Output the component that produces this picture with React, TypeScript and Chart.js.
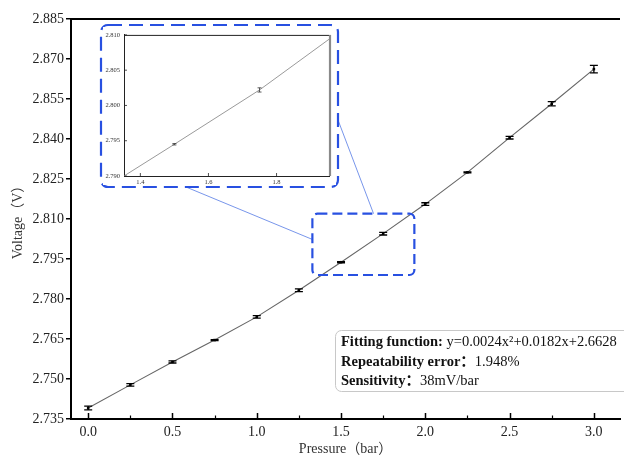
import React, { useEffect, useRef } from "react";
import { Chart, registerables } from "chart.js";

Chart.register(...registerables);

// ---------- data ----------
const pressure = [0, 0.25, 0.5, 0.75, 1.0, 1.25, 1.5, 1.75, 2.0, 2.25, 2.5, 2.75, 3.0];
const voltage = [2.7391, 2.7478, 2.7564, 2.7646, 2.7733, 2.7833, 2.7938, 2.8045, 2.8156, 2.8275, 2.8405, 2.8532, 2.8662];
const voltageError = [0.0007, 0.0005, 0.0004, 0.0002, 0.0005, 0.0005, 0.0002, 0.0005, 0.0005, 0.0002, 0.0005, 0.0008, 0.0014];

const xMajorTicks = [0, 0.5, 1.0, 1.5, 2.0, 2.5, 3.0];
const xMinorTicks = [0.25, 0.75, 1.25, 1.75, 2.25, 2.75];
const yTicks = [2.735, 2.75, 2.765, 2.78, 2.795, 2.81, 2.825, 2.84, 2.855, 2.87, 2.885];

// zoomed region (data units) marked on the main chart
const zoomPressure = [1.33, 1.935];
const zoomVoltage = [2.789, 2.812];

// inset chart
const insetPressure = [1.25, 1.5, 1.75, 2.0];
const insetVoltage = [2.7869, 2.7945, 2.8022, 2.811];
const insetError = [0, 0.0001, 0.0003, 0];
const insetXTicks = [1.4, 1.6, 1.8];
const insetYTicks = [2.79, 2.795, 2.8, 2.805, 2.81];

// annotation text
const fitLabel = "Fitting function:";
const fitText = " y=0.0024x\u00B2+0.0182x+2.6628";
const repLabel = "Repeatability error\uFF1A";
const repText = "1.948%";
const sensLabel = "Sensitivity\uFF1A";
const sensText = "38mV/bar";

const SERIF = "'Liberation Serif', 'Times New Roman', 'Noto Sans CJK SC', serif";
const BLUE = "rgb(40, 80, 225)";

function errorBarPlugin(id: string, xs: number[], ys: number[], errs: number[], cap: number, lw: number, color: string, only?: number[]) {
  return {
    id,
    afterDatasetsDraw(chart: any) {
      const { ctx, scales, chartArea } = chart;
      const xs_ = scales.x;
      const ys_ = scales.y;
      ctx.save();
      ctx.beginPath();
      ctx.rect(chartArea.left, chartArea.top, chartArea.right - chartArea.left, chartArea.bottom - chartArea.top);
      ctx.clip();
      ctx.strokeStyle = color;
      ctx.lineWidth = lw;
      xs.forEach((xv, i) => {
        if (only && !only.includes(i)) return;
        const px = xs_.getPixelForValue(xv);
        const pt = ys_.getPixelForValue(ys[i] + errs[i]);
        const pb = ys_.getPixelForValue(ys[i] - errs[i]);
        ctx.beginPath();
        ctx.moveTo(px, pt);
        ctx.lineTo(px, pb);
        ctx.moveTo(px - cap / 2, pt);
        ctx.lineTo(px + cap / 2, pt);
        ctx.moveTo(px - cap / 2, pb);
        ctx.lineTo(px + cap / 2, pb);
        ctx.stroke();
      });
      ctx.restore();
    },
  };
}

function rrect(ctx: CanvasRenderingContext2D, x: number, y: number, w: number, h: number, r: number) {
  ctx.beginPath();
  ctx.moveTo(x + r, y);
  ctx.lineTo(x + w - r, y);
  ctx.arcTo(x + w, y, x + w, y + r, r);
  ctx.lineTo(x + w, y + h - r);
  ctx.arcTo(x + w, y + h, x + w - r, y + h, r);
  ctx.lineTo(x + r, y + h);
  ctx.arcTo(x, y + h, x, y + h - r, r);
  ctx.lineTo(x, y + r);
  ctx.arcTo(x, y, x + r, y, r);
  ctx.closePath();
}

const mainDecor = {
  id: "mainDecor",
  beforeDraw(chart: any) {
    const { ctx, width, height } = chart;
    ctx.save();
    ctx.fillStyle = "#fff";
    ctx.fillRect(0, 0, width, height);
    ctx.restore();
  },
  afterDraw(chart: any) {
    const { ctx, chartArea, scales } = chart;
    const xs = scales.x;
    const ys = scales.y;
    ctx.save();
    // top frame line
    ctx.strokeStyle = "#000";
    ctx.lineWidth = 2;
    ctx.beginPath();
    ctx.moveTo(chartArea.left - 1, chartArea.top);
    ctx.lineTo(chartArea.right, chartArea.top);
    ctx.stroke();
    // inward x ticks
    ctx.lineWidth = 1.5;
    const yb = chartArea.bottom;
    xMajorTicks.forEach((v) => {
      const px = Math.round(xs.getPixelForValue(v)) + 0.5;
      ctx.beginPath();
      ctx.moveTo(px, yb);
      ctx.lineTo(px, yb - 6);
      ctx.stroke();
    });
    ctx.lineWidth = 1.2;
    xMinorTicks.forEach((v) => {
      const px = Math.round(xs.getPixelForValue(v)) + 0.5;
      ctx.beginPath();
      ctx.moveTo(px, yb);
      ctx.lineTo(px, yb - 3.5);
      ctx.stroke();
    });

    // zoom box
    const zx1 = xs.getPixelForValue(zoomPressure[0]);
    const zx2 = xs.getPixelForValue(zoomPressure[1]);
    const zy1 = ys.getPixelForValue(zoomVoltage[1]);
    const zy2 = ys.getPixelForValue(zoomVoltage[0]);
    // inset frame (layout position)
    const ix1 = 101, iy1 = 25, ix2 = 338, iy2 = 187;

    // connector lines
    ctx.strokeStyle = "rgb(120, 150, 235)";
    ctx.lineWidth = 1;
    ctx.setLineDash([]);
    ctx.beginPath();
    ctx.moveTo(186, iy2);
    ctx.lineTo(zx1, zy1 + (zy2 - zy1) * 0.42);
    ctx.moveTo(ix2, 120);
    ctx.lineTo(zx1 + (zx2 - zx1) * 0.6, zy1);
    ctx.stroke();

    ctx.strokeStyle = BLUE;
    ctx.lineWidth = 2.2;
    ctx.setLineDash([10, 5]);
    rrect(ctx, zx1, zy1, zx2 - zx1, zy2 - zy1, 5);
    ctx.stroke();
    ctx.setLineDash([14, 7]);
    rrect(ctx, ix1, iy1, ix2 - ix1, iy2 - iy1, 7);
    ctx.stroke();
    ctx.setLineDash([]);

    // annotation box
    ctx.fillStyle = "#fff";
    ctx.strokeStyle = "#c8c8c8";
    ctx.lineWidth = 1;
    rrect(ctx, 335.5, 330.5, 300, 61, 6);
    ctx.fill();
    ctx.stroke();
    ctx.textBaseline = "middle";
    ctx.fillStyle = "#111";
    const lines: [string, string, number][] = [
      [fitLabel, fitText, 342.5],
      [repLabel, repText, 362],
      [sensLabel, sensText, 381],
    ];
    lines.forEach(([b, n, y]) => {
      ctx.font = `bold 14.5px ${SERIF}`;
      ctx.fillText(b, 341, y);
      const w = ctx.measureText(b).width;
      ctx.font = `14.5px ${SERIF}`;
      ctx.fillText(n, 341 + w, y);
    });
    ctx.restore();
  },
};

const insetDecor = {
  id: "insetDecor",
  beforeDraw(chart: any) {
    const { ctx, width, height } = chart;
    ctx.save();
    ctx.fillStyle = "#fff";
    ctx.fillRect(0, 0, width, height);
    ctx.restore();
  },
  afterDraw(chart: any) {
    const { ctx, chartArea, scales } = chart;
    const xs = scales.x;
    const ys = scales.y;
    ctx.save();
    ctx.strokeStyle = "#222";
    ctx.lineWidth = 1;
    ctx.beginPath();
    ctx.moveTo(chartArea.left, chartArea.top + 0.5);
    ctx.lineTo(chartArea.right, chartArea.top + 0.5);
    ctx.stroke();
    ctx.strokeStyle = "#8a8a8a";
    ctx.lineWidth = 2.2;
    ctx.beginPath();
    ctx.moveTo(chartArea.right + 1, chartArea.top);
    ctx.lineTo(chartArea.right + 1, chartArea.bottom);
    ctx.stroke();
    ctx.strokeStyle = "#222";
    ctx.lineWidth = 0.8;
    insetXTicks.forEach((v) => {
      const px = xs.getPixelForValue(v);
      ctx.beginPath();
      ctx.moveTo(px, chartArea.bottom);
      ctx.lineTo(px, chartArea.bottom - 3);
      ctx.stroke();
    });
    insetYTicks.forEach((v) => {
      const py = ys.getPixelForValue(v);
      ctx.beginPath();
      ctx.moveTo(chartArea.left, py);
      ctx.lineTo(chartArea.left + 3, py);
      ctx.stroke();
    });
    ctx.restore();
  },
};

export default function App() {
  const mainRef = useRef<HTMLCanvasElement | null>(null);
  const insetRef = useRef<HTMLCanvasElement | null>(null);

  useEffect(() => {
    document.body.style.margin = "0";
    if (!mainRef.current || !insetRef.current) return;

    const main = new Chart(mainRef.current, {
      type: "line",
      data: {
        datasets: [
          {
            data: pressure.map((p, i) => ({ x: p, y: voltage[i] })),
            borderColor: "#666",
            borderWidth: 1.1,
            pointStyle: "rect",
            pointRadius: 1.8,
            pointBackgroundColor: "#000",
            pointBorderColor: "#000",
            pointBorderWidth: 0,
            tension: 0,
          },
        ],
      },
      options: {
        animation: false,
        responsive: false,
        devicePixelRatio: 1,
        layout: { padding: { top: 19, right: 0, left: 0, bottom: 0 } },
        plugins: { legend: { display: false }, tooltip: { enabled: false } },
        scales: {
          x: {
            type: "linear",
            min: -0.102,
            max: 3.155,
            afterBuildTicks: (s: any) => {
              s.ticks = xMajorTicks.map((v) => ({ value: v }));
            },
            afterFit: (s: any) => {
              s.height = 37;
            },
            grid: { display: false, drawTicks: false },
            border: { display: true, color: "#000", width: 2 },
            ticks: {
              color: "#222",
              font: { family: SERIF, size: 14 },
              padding: 5,
              maxRotation: 0,
              autoSkip: false,
              callback: (v: any) => Number(v).toFixed(1),
            },
            title: {
              display: true,
              text: "Pressure\uFF08bar\uFF09",
              color: "#333",
              font: { family: SERIF, size: 14, lineHeight: 1 },
              padding: 0,
            },
          },
          y: {
            type: "linear",
            min: 2.735,
            max: 2.885,
            afterBuildTicks: (s: any) => {
              s.ticks = yTicks.map((v) => ({ value: v }));
            },
            afterFit: (s: any) => {
              s.width = 71;
            },
            grid: { display: true, drawOnChartArea: false, drawTicks: true, tickLength: 5, color: "#000", lineWidth: 1.5 },
            border: { display: true, color: "#000", width: 2 },
            ticks: {
              color: "#222",
              font: { family: SERIF, size: 14 },
              padding: 2,
              autoSkip: false,
              callback: (v: any) => Number(v).toFixed(3),
            },
            title: {
              display: true,
              text: "Voltage\uFF08V\uFF09",
              color: "#333",
              font: { family: SERIF, size: 14, lineHeight: 1.2 },
              padding: { top: 10, bottom: 0 },
            },
          },
        },
      },
      plugins: [mainDecor, errorBarPlugin("mainErr", pressure, voltage, voltageError, 8, 1.3, "#000")],
    });

    const inset = new Chart(insetRef.current, {
      type: "line",
      data: {
        datasets: [
          {
            data: insetPressure.map((p, i) => ({ x: p, y: insetVoltage[i] })),
            borderColor: "#9a9a9a",
            borderWidth: 1,
            pointRadius: 0,
            tension: 0,
          },
        ],
      },
      options: {
        animation: false,
        responsive: false,
        devicePixelRatio: 1,
        layout: { padding: { top: 4, right: 7, left: 0, bottom: 0 } },
        plugins: { legend: { display: false }, tooltip: { enabled: false } },
        scales: {
          x: {
            type: "linear",
            min: 1.352,
            max: 1.954,
            afterBuildTicks: (s: any) => {
              s.ticks = insetXTicks.map((v) => ({ value: v }));
            },
            afterFit: (s: any) => {
              s.height = 9;
            },
            grid: { display: false, drawTicks: false },
            border: { display: true, color: "#222", width: 1 },
            ticks: {
              color: "#333",
              font: { family: SERIF, size: 6.5 },
              padding: 2,
              maxRotation: 0,
              autoSkip: false,
              callback: (v: any) => Number(v).toFixed(1),
            },
          },
          y: {
            type: "linear",
            min: 2.79,
            max: 2.81,
            afterBuildTicks: (s: any) => {
              s.ticks = insetYTicks.map((v) => ({ value: v }));
            },
            afterFit: (s: any) => {
              s.width = 21;
            },
            grid: { display: false, drawTicks: false },
            border: { display: true, color: "#222", width: 1 },
            ticks: {
              color: "#333",
              font: { family: SERIF, size: 6.5 },
              padding: 4,
              autoSkip: false,
              callback: (v: any) => Number(v).toFixed(3),
            },
          },
        },
      },
      plugins: [insetDecor, errorBarPlugin("insetErr", insetPressure, insetVoltage, insetError, 4, 0.8, "#333", [1, 2])],
    });

    return () => {
      main.destroy();
      inset.destroy();
    };
  }, []);

  return (
    <div style={{ position: "fixed", left: 0, top: 0, width: 624, height: 456, background: "#fff" }}>
      <canvas ref={mainRef} width={624} height={456} style={{ position: "absolute", left: 0, top: 0 }} />
      <canvas ref={insetRef} width={233} height={158} style={{ position: "absolute", left: 103, top: 27 }} />
    </div>
  );
}
